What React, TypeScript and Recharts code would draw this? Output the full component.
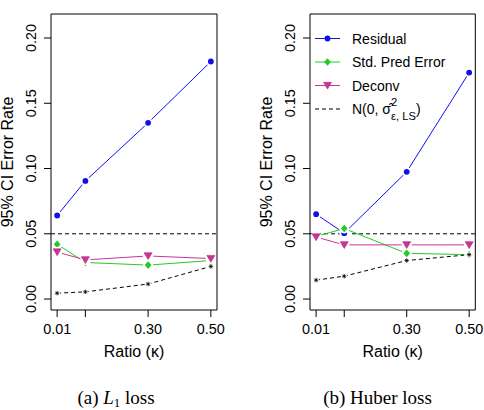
import React from "react";
import { LineChart, Line, XAxis, YAxis, ReferenceLine, ReferenceArea, Legend } from "recharts";

// x positions (ratio kappa) and axis ticks
const ratios = [0.01, 0.1, 0.3, 0.5];
const ratioTicks = [0.01, 0.1, 0.3, 0.5];
const ratioLabels = ["0.01", "", "0.30", "0.50"];
const rateTicks = [0, 0.05, 0.1, 0.15, 0.2];
const rateLabels = ["0.00", "0.05", "0.10", "0.15", "0.20"];
const nominalRate = 0.05;

// (a) L1 loss
const l1Residual = [0.064, 0.0905, 0.135, 0.182];
const l1StdPred = [0.042, 0.028, 0.026, 0.0295];
const l1Deconv = [0.036, 0.03, 0.033, 0.031];
const l1Normal = [0.0045, 0.0055, 0.0115, 0.025];

// (b) Huber loss
const huberResidual = [0.065, 0.0505, 0.0975, 0.1735];
const huberStdPred = [0.048, 0.054, 0.035, 0.034];
const huberDeconv = [0.0475, 0.0415, 0.0415, 0.0415];
const huberNormal = [0.0145, 0.0175, 0.0295, 0.034];

// R-style padded ranges (4% either side)
const X_DOMAIN: [number, number] = [-0.0096, 0.5196];
const Y_DOMAIN: [number, number] = [-0.0084, 0.2184];

const SANS = "'Liberation Sans', Arial, Helvetica, sans-serif";
const SERIF = "'Liberation Serif', 'Times New Roman', serif";

type Shape = "circle" | "diamond" | "triangle" | "star";

const SERIES: { key: string; name: string; color: string; shape: Shape; dash?: string }[] = [
  { key: "residual", name: "Residual", color: "#1010ee", shape: "circle" },
  { key: "stdPred", name: "Std. Pred Error", color: "#22cc22", shape: "diamond" },
  { key: "deconv", name: "Deconv", color: "#cc3399", shape: "triangle" },
  { key: "normal", name: "normal", color: "#000000", shape: "star", dash: "4 3" },
];

const buildRows = (res: number[], sp: number[], dc: number[], nm: number[]) =>
  ratios.map((ratio, i) => ({ ratio, residual: res[i], stdPred: sp[i], deconv: dc[i], normal: nm[i] }));

const l1Rows = buildRows(l1Residual, l1StdPred, l1Deconv, l1Normal);
const huberRows = buildRows(huberResidual, huberStdPred, huberDeconv, huberNormal);

function Marker({ shape, cx, cy, color, halo = true }: { shape: Shape; cx: number; cy: number; color: string; halo?: boolean }) {
  if (cx == null || cy == null) return null;
  if (shape === "circle") {
    return (
      <g>
        {halo && <circle cx={cx} cy={cy} r={4.8} fill="#fff" />}
        <circle cx={cx} cy={cy} r={2.9} fill={color} />
      </g>
    );
  }
  if (shape === "diamond") {
    return (
      <g>
        {halo && <circle cx={cx} cy={cy} r={5} fill="#fff" />}
        <polygon
          points={`${cx},${cy - 3.8} ${cx + 3.4},${cy} ${cx},${cy + 3.8} ${cx - 3.4},${cy}`}
          fill={color}
        />
      </g>
    );
  }
  if (shape === "triangle") {
    return (
      <g>
        {halo && <circle cx={cx} cy={cy} r={5.2} fill="#fff" />}
        <polygon
          points={`${cx - 4},${cy - 3.2} ${cx + 4},${cy - 3.2} ${cx},${cy + 3.6}`}
          fill={color}
          stroke="#a8287a"
          strokeWidth={0.6}
        />
      </g>
    );
  }
  const s = 2.2;
  return (
    <g stroke="#000" strokeWidth={0.8}>
      {halo && <circle cx={cx} cy={cy} r={3} fill="#fff" stroke="none" />}
      <line x1={cx - s} y1={cy} x2={cx + s} y2={cy} />
      <line x1={cx} y1={cy - s} x2={cx} y2={cy + s} />
      <line x1={cx - s * 0.7} y1={cy - s * 0.7} x2={cx + s * 0.7} y2={cy + s * 0.7} />
      <line x1={cx - s * 0.7} y1={cy + s * 0.7} x2={cx + s * 0.7} y2={cy - s * 0.7} />
    </g>
  );
}

const XTick = (props: any) => {
  const { x, y, payload } = props;
  const i = ratioTicks.indexOf(payload.value);
  const label = i >= 0 ? ratioLabels[i] : "";
  if (!label) return null;
  return (
    <text x={x} y={y + 17} textAnchor="middle" fontFamily={SANS} fontSize={14.4} fill="#000">
      {label}
    </text>
  );
};

const YTick = (props: any) => {
  const { x, y, payload } = props;
  const i = rateTicks.indexOf(payload.value);
  const bx = x - 7.5;
  return (
    <text
      x={bx}
      y={y}
      transform={`rotate(-90, ${bx}, ${y})`}
      textAnchor="middle"
      fontFamily={SANS}
      fontSize={14.4}
      fill="#000"
    >
      {i >= 0 ? rateLabels[i] : ""}
    </text>
  );
};

const xTitle = (props: any) => {
  const vb = props.viewBox || {};
  return (
    <text x={vb.x + vb.width / 2} y={vb.y + 46.7} textAnchor="middle" fontFamily={SANS} fontSize={16} fill="#000">
      Ratio (κ)
    </text>
  );
};

const yTitle = (props: any) => {
  const vb = props.viewBox || {};
  const bx = vb.x + vb.width - 37.6;
  const cy = vb.y + vb.height / 2;
  return (
    <text
      x={bx}
      y={cy}
      transform={`rotate(-90, ${bx}, ${cy})`}
      textAnchor="middle"
      fontFamily={SANS}
      fontSize={16}
      fill="#000"
    >
      95% CI Error Rate
    </text>
  );
};

const LEGEND_ROWS = [38.5, 62, 85.5, 109];

const HuberLegend = () => (
  <svg width={225} height={130} style={{ display: "block" }}>
    {SERIES.map((s, i) => (
      <g key={s.key}>
        <line
          x1={56}
          x2={81}
          y1={LEGEND_ROWS[i]}
          y2={LEGEND_ROWS[i]}
          stroke={s.color}
          strokeWidth={1}
          strokeDasharray={s.dash}
        />
        {s.shape !== "star" && <Marker shape={s.shape} cx={68.5} cy={LEGEND_ROWS[i]} color={s.color} halo={false} />}
        {s.shape !== "star" && (
          <text x={93} y={LEGEND_ROWS[i] + 5} fontFamily={SANS} fontSize={14} fill="#000">
            {s.name}
          </text>
        )}
      </g>
    ))}
    {/* N(0, sigma-hat^2_{eps, LS}) */}
    <text fontFamily={SANS} fill="#000" fontSize={14} x={93} y={114.3}>
      N(0, σ̂
      <tspan fontSize={11.2} dy={-8.3}>2</tspan>
      <tspan fontSize={11.2} dx={-6.2} dy={14}>ε, LS</tspan>
      <tspan fontSize={14} dy={-5.7}>)</tspan>
    </text>
  </svg>
);

function Panel({ rows, width, marginRight, legend }: { rows: any[]; width: number; marginRight: number; legend?: boolean }) {
  return (
    <LineChart width={width} height={370} data={rows} margin={{ top: 14, right: marginRight, left: 0, bottom: 0 }}>
      <XAxis
        dataKey="ratio"
        type="number"
        domain={X_DOMAIN}
        allowDataOverflow
        ticks={ratioTicks}
        tick={<XTick />}
        tickLine={{ stroke: "#000" }}
        tickSize={7}
        tickMargin={0}
        axisLine={false}
        height={60}
        interval={0}
        label={xTitle}
      />
      <YAxis
        type="number"
        domain={Y_DOMAIN}
        allowDataOverflow
        ticks={rateTicks}
        tick={<YTick />}
        tickLine={{ stroke: "#000" }}
        tickSize={7}
        tickMargin={0}
        axisLine={false}
        width={51}
        interval={0}
        label={yTitle}
      />
      <ReferenceArea
        x1={X_DOMAIN[0]}
        x2={X_DOMAIN[1]}
        y1={Y_DOMAIN[0]}
        y2={Y_DOMAIN[1]}
        fill="none"
        fillOpacity={0}
        stroke="#000"
        strokeWidth={1}
        ifOverflow="visible"
      />
      <ReferenceLine y={nominalRate} stroke="#000" strokeWidth={1} strokeDasharray="4 3" />
      {SERIES.map((s) => (
        <Line
          key={s.key}
          dataKey={s.key}
          name={s.name}
          type="linear"
          stroke={s.color}
          strokeWidth={1}
          strokeDasharray={s.dash}
          isAnimationActive={false}
          activeDot={false}
          dot={(p: any) => <Marker key={`${s.key}-${p.index}`} shape={s.shape} cx={p.cx} cy={p.cy} color={s.color} />}
        />
      ))}
      {legend && (
        <Legend
          layout="vertical"
          align="center"
          verticalAlign="middle"
          content={() => <HuberLegend />}
          wrapperStyle={{ left: 0, top: 0, width: 225, height: 130 }}
        />
      )}
    </LineChart>
  );
}

export default function App() {
  return (
    <div style={{ position: "absolute", left: 0, top: 0, width: 484, height: 410, background: "#fff", overflow: "hidden" }}>
      <div style={{ position: "absolute", left: 0, top: 0 }}>
        <Panel rows={l1Rows} width={242} marginRight={25} />
      </div>
      <div style={{ position: "absolute", left: 259, top: 0 }}>
        <Panel rows={huberRows} width={225} marginRight={8.7} legend />
      </div>
      <svg width={484} height={40} style={{ position: "absolute", left: 0, top: 370 }}>
        <g fontFamily={SERIF} fontSize={19} fill="#000">
          <text x={116} y={34} textAnchor="middle">
            (a) <tspan fontStyle="italic">L</tspan>
            <tspan fontSize={13} dy={3}>1</tspan>
            <tspan dy={-3}> loss</tspan>
          </text>
          <text x={377.5} y={34} textAnchor="middle">
            (b) Huber loss
          </text>
        </g>
      </svg>
    </div>
  );
}
